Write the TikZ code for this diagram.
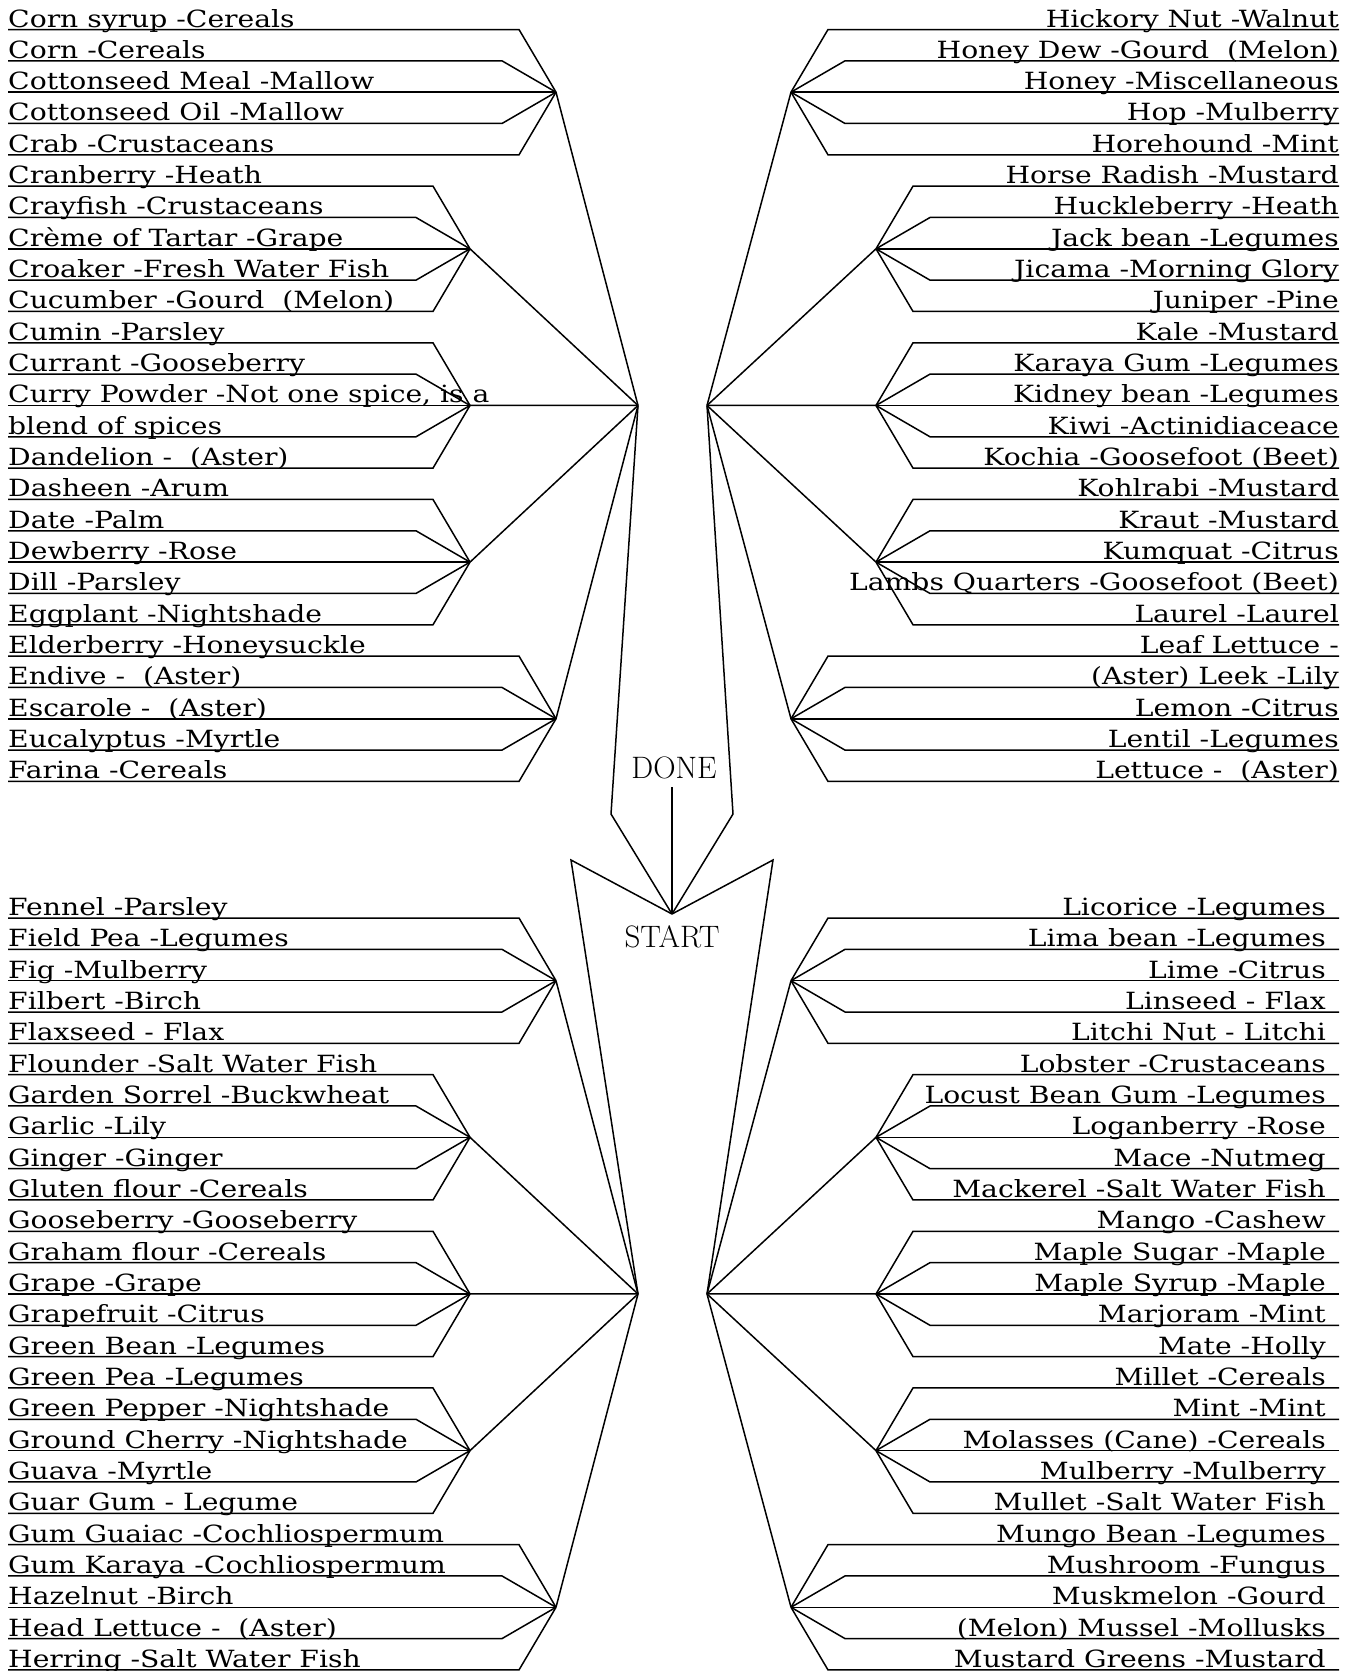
\documentclass[tikz,border=0pt]{standalone}
\usepackage{fontspec}
\newfontfamily\labfont{DejaVu Serif}[FakeStretch=1.19]
\def\TLlist{Corn syrup -Cereals, Corn -Cereals, Cottonseed Meal -Mallow, Cottonseed Oil -Mallow, Crab -Crustaceans, Cranberry -Heath, Crayfish -Crustaceans, Crème of Tartar -Grape, Croaker -Fresh Water Fish, Cucumber -Gourd~~(Melon), Cumin -Parsley, Currant -Gooseberry, {Curry Powder -Not one spice, is a}, blend of spices, Dandelion -~~(Aster), Dasheen -Arum, Date -Palm, Dewberry -Rose, Dill -Parsley, Eggplant -Nightshade, Elderberry -Honeysuckle, Endive -~~(Aster), Escarole -~~(Aster), Eucalyptus -Myrtle, Farina -Cereals}
\def\TRlist{Hickory Nut -Walnut, Honey Dew -Gourd~~(Melon), Honey -Miscellaneous, Hop -Mulberry, Horehound -Mint, Horse Radish -Mustard, Huckleberry -Heath, Jack bean -Legumes, Jicama -Morning Glory, Juniper -Pine, Kale -Mustard, Karaya Gum -Legumes, Kidney bean -Legumes, Kiwi -Actinidiaceace, Kochia -Goosefoot (Beet), Kohlrabi -Mustard, Kraut -Mustard, Kumquat -Citrus, Lambs Quarters -Goosefoot (Beet), Laurel -Laurel, Leaf Lettuce -, (Aster) Leek -Lily, Lemon -Citrus, Lentil -Legumes, Lettuce -~~(Aster)}
\def\BLlist{Fennel -Parsley, Field Pea -Legumes, Fig -Mulberry, Filbert -Birch, Flaxseed - Flax, Flounder -Salt Water Fish, Garden Sorrel -Buckwheat, Garlic -Lily, Ginger -Ginger, Gluten flour -Cereals, Gooseberry -Gooseberry, Graham flour -Cereals, Grape -Grape, Grapefruit -Citrus, Green Bean -Legumes, Green Pea -Legumes, Green Pepper -Nightshade, Ground Cherry -Nightshade, Guava -Myrtle, Guar Gum - Legume, Gum Guaiac -Cochliospermum, Gum Karaya -Cochliospermum, Hazelnut -Birch, Head Lettuce -~~(Aster), Herring -Salt Water Fish}
\def\BRlist{Licorice -Legumes, Lima bean -Legumes, Lime -Citrus, Linseed - Flax, Litchi Nut - Litchi, Lobster -Crustaceans, Locust Bean Gum -Legumes, Loganberry -Rose, Mace -Nutmeg, Mackerel -Salt Water Fish, Mango -Cashew, Maple Sugar -Maple, Maple Syrup -Maple, Marjoram -Mint, Mate -Holly, Millet -Cereals, Mint -Mint, Molasses (Cane) -Cereals, Mulberry -Mulberry, Mullet -Salt Water Fish, Mungo Bean -Legumes, Mushroom -Fungus, Muskmelon -Gourd, (Melon) Mussel -Mollusks, Mustard Greens -Mustard}
\begin{document}
\begin{tikzpicture}[x=1pt,y=-1pt,
  lnk/.style={draw=black, line width=1.5pt, line join=miter},
  lbl/.style={inner sep=0pt, font=\labfont\fontsize{23.7}{28}\selectfont},
  big/.style={inner sep=0pt, font=\fontsize{31}{36}\selectfont}]
\useasboundingbox (0,0) rectangle (1351,1671);
% quadrant hubs and centre
\coordinate (tlq) at (638,405.46);
\coordinate (trq) at (707,405.46);
\coordinate (blq) at (638,1293.96);
\coordinate (brq) at (707,1293.96);
\coordinate (ctr) at (672,914);
\coordinate (ktl) at (611,814);
\coordinate (ktr) at (733,814);
\coordinate (kbl) at (571,860);
\coordinate (kbr) at (773,860);
\node[big, anchor=base] (done) at (674,778) {DONE};
\node[big, anchor=base] (start) at (672,947) {START};
\coordinate (dtail) at (672,787);
\draw[lnk] (tlq) -- (ktl) -- (ctr);
\draw[lnk] (trq) -- (ktr) -- (ctr);
\draw[lnk] (blq) -- (kbl) -- (ctr);
\draw[lnk] (brq) -- (kbr) -- (ctr);
\draw[lnk] (dtail) -- (ctr);
% ---------- text ----------
\foreach \txt [count=\i from 0] in \TLlist {
  \node[lbl, anchor=base west] (tlt\i) at (8,{29.5+\i*31.33-2.5}) {\txt};
}
\foreach \txt [count=\i from 0] in \TRlist {
  \node[lbl, anchor=base east] (trt\i) at (1339,{29.5+\i*31.33-2.5}) {\txt};
}
\foreach \txt [count=\i from 0] in \BLlist {
  \node[lbl, anchor=base west] (blt\i) at (8,{918+\i*31.33-2.5}) {\txt};
}
\foreach \txt [count=\i from 0] in \BRlist {
  \node[lbl, anchor=base east] (brt\i) at (1326,{918+\i*31.33-2.5}) {\txt};
}
% ---------- left quadrants ----------
\foreach \p/\yo in {tl/29.5, bl/918} {
  \foreach \g/\gx in {0/556,1/470,2/470,3/470,4/556} {
    \pgfmathsetmacro\gy{\yo+(5*\g+2)*31.33}
    \coordinate (\p g\g) at (\gx,\gy);
    \draw[lnk] (\p g\g) -- (\p q);
    \foreach \k/\o in {0/37,1/54,2/0,3/54,4/37} {
      \pgfmathtruncatemacro\r{5*\g+\k}
      \pgfmathsetmacro\ry{\yo+\r*31.33}
      \coordinate (\p s\r) at (8,\ry);
      \coordinate (\p e\r) at (\gx-\o,\ry);
      \draw[lnk] (\p s\r) -- (\p e\r) -- (\p g\g);
    }
  }
}
% ---------- right quadrants ----------
\foreach \p/\yo in {tr/29.5, br/918} {
  \foreach \g/\gx in {0/791,1/876,2/876,3/876,4/791} {
    \pgfmathsetmacro\gy{\yo+(5*\g+2)*31.33}
    \coordinate (\p g\g) at (\gx,\gy);
    \draw[lnk] (\p g\g) -- (\p q);
    \foreach \k/\o in {0/37,1/54,2/0,3/54,4/37} {
      \pgfmathtruncatemacro\r{5*\g+\k}
      \pgfmathsetmacro\ry{\yo+\r*31.33}
      \coordinate (\p s\r) at (1339,\ry);
      \coordinate (\p e\r) at (\gx+\o,\ry);
      \draw[lnk] (\p s\r) -- (\p e\r) -- (\p g\g);
    }
  }
}
\end{tikzpicture}
\end{document}
